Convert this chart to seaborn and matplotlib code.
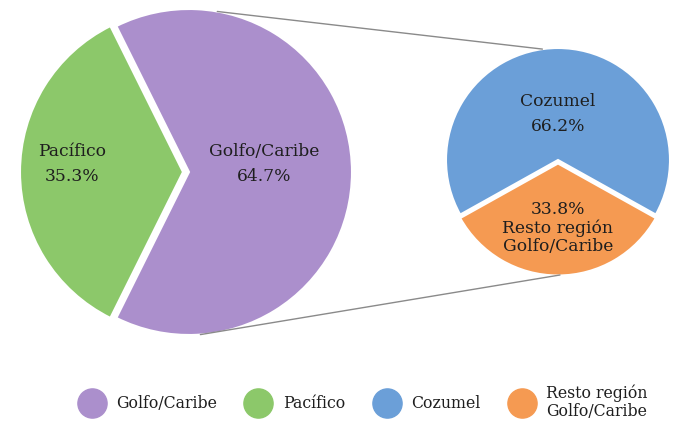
import numpy as np
import matplotlib
matplotlib.use("Agg")
import matplotlib.pyplot as plt
from matplotlib.lines import Line2D
import seaborn as sns

# Regional share of visitors and the breakdown of the Gulf/Caribbean slice
main_labels = ["Golfo/Caribe", "Pacífico"]
main_values = [64.7, 35.3]
detail_labels = ["Cozumel", "Resto región\nGolfo/Caribe"]
detail_values = [66.2, 33.8]
legend_labels = ["Golfo/Caribe", "Pacífico", "Cozumel", "Resto región\nGolfo/Caribe"]

sns.set_theme(style="white")
plt.rcParams["font.family"] = ["DejaVu Serif", "DejaVu Sans"]

colors_main = ["#AB8FCC", "#8CC86A"]
colors_detail = ["#6B9FD8", "#F59A52"]
text_color = "#1e1e1e"

W, H = 681, 422
fig = plt.figure(figsize=(W / 100, H / 100), dpi=100)
ax = fig.add_axes([0, 0, 1, 1])

# Main pie (Pacífico pulled out to the left)
big_c = (189, H - 172)
big_r = 163
main_start = 180 - main_values[1] * 3.6 / 2
ax.pie(main_values, colors=colors_main, center=big_c, radius=big_r,
       startangle=main_start, counterclock=False, explode=[0, 6],
       wedgeprops=dict(edgecolor="white", linewidth=1.5), frame=True)

# Detail pie (Resto pulled down)
small_c = (558, H - 160)
small_r = 112
detail_start = 270 + detail_values[0] * 3.6 + detail_values[1] * 3.6 / 2 - 360
ax.pie(detail_values, colors=colors_detail, center=small_c, radius=small_r,
       startangle=detail_start, counterclock=False, explode=[0, 3.5],
       wedgeprops=dict(edgecolor="white", linewidth=1.5), frame=True)
ax.set_xlim(0, W)
ax.set_ylim(0, H)
ax.set_aspect("equal")
ax.axis("off")

fs = 12.3
ax.text(72, H - 164, f"{main_labels[1]}\n{main_values[1]:.1f}%", ha="center", va="center",
        fontsize=fs, color=text_color, linespacing=1.6)
ax.text(264, H - 164, f"{main_labels[0]}\n{main_values[0]:.1f}%", ha="center", va="center",
        fontsize=fs, color=text_color, linespacing=1.6)
ax.text(558, H - 114, f"{detail_labels[0]}\n{detail_values[0]:.1f}%", ha="center", va="center",
        fontsize=fs, color=text_color, linespacing=1.55)
ax.text(558, H - 228, f"{detail_values[1]:.1f}%\n{detail_labels[1]}", ha="center", va="center",
        fontsize=fs, color=text_color, linespacing=1.12)

# Connector lines between the two pies
def on_circle(c, r, ang):
    a = np.deg2rad(ang)
    return c[0] + r * np.cos(a), c[1] + r * np.sin(a)

for a_big, a_small, r_small in [(80, 98, small_r), (-86, -89, small_r + 3)]:
    x0, y0 = on_circle(big_c, big_r, a_big)
    x1, y1 = on_circle(small_c, r_small, a_small)
    ax.plot([x0, x1], [y0, y1], color="#8a8a8a", lw=1.0, zorder=3)

lfs = 11.3
handles = [Line2D([0], [0], marker="o", linestyle="none", markersize=21,
                  markerfacecolor=c, markeredgecolor=c)
           for c in [colors_main[0], colors_main[1], colors_detail[0], colors_detail[1]]]
leg = fig.legend(handles, legend_labels, loc="center left",
                 bbox_to_anchor=(79 / W, 1 - 402 / H),
                 ncol=4, frameon=False, fontsize=lfs, handlelength=1.6,
                 handletextpad=0.75, columnspacing=1.85, borderpad=0,
                 borderaxespad=0, labelspacing=0.2)
for t in leg.get_texts():
    t.set_color(text_color)
    t.set_linespacing(1.05)

fig.savefig("out.png", dpi=100, facecolor="white")
